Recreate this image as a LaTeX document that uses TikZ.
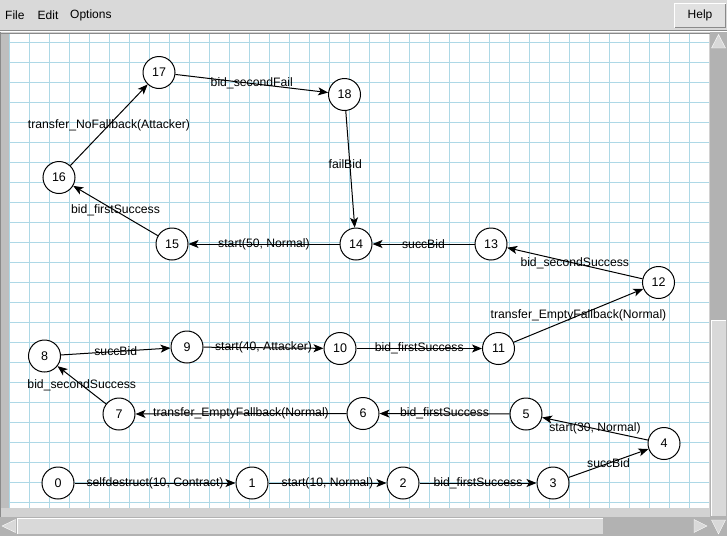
\documentclass[tikz,border=0pt]{standalone}
\usepackage{fontspec}
\setmainfont{Liberation Sans}
\usepackage[dvipsnames]{xcolor}
\usetikzlibrary{arrows.meta}

\definecolor{WinGray}{HTML}{D9D9D9}
\definecolor{FrameGray}{HTML}{D2D2D2}
\definecolor{StripGray}{HTML}{BEBEBE}
\definecolor{TroughGray}{HTML}{B2B2B2}
\definecolor{EdgeGray}{HTML}{8A8A8A}
\definecolor{GridBlue}{HTML}{ADD8E6}

\begin{document}
\begin{tikzpicture}[x=1pt, y=-1pt,
	state/.style={draw, line width=1pt, circle, minimum size=32pt, inner sep=0pt, fill=white, font=\fontsize{12.5}{14}\selectfont},
	trans/.style={-{Stealth[length=10pt, width=8pt, inset=2.5pt]}, line width=1pt},
	lbl/.style={inner sep=0pt, font=\fontsize{12.2}{14}\selectfont},
	menu/.style={anchor=west, inner sep=0pt, font=\fontsize{12}{14}\selectfont}]
	\path[use as bounding box, fill=WinGray] (0,0) rectangle (727,536);

	\node[menu] (file) at (5,15) {File};
	\node[menu] (edit) at (37.5,15) {Edit};
	\node[menu] (options) at (70,15) {Options};
	\fill[WinGray!80!white] (674,3) rectangle (726,28);
	\draw[white, line width=1pt] (674.5,27.5) -- (674.5,3.5) -- (725.5,3.5);
	\draw[EdgeGray, line width=1pt] (674.5,27.5) -- (725.5,27.5) -- (725.5,3.5);
	\node[menu, anchor=center] (help) at (700,15.5) {Help};
	\draw[EdgeGray, line width=1pt] (0,30.5) -- (727,30.5);
	\draw[white, line width=1pt] (0,31.5) -- (727,31.5);

	\fill[FrameGray] (0,32) rectangle (710,518);
	\fill[StripGray] (1,33) rectangle (9,508);
	\draw[EdgeGray, line width=1pt] (0.5,32) -- (0.5,518);
	\draw[EdgeGray, line width=1pt] (0,33) -- (710,33);
	\fill[white] (9,33.5) rectangle (709,508);
	\foreach \gx in {0,...,34}
		\draw[GridBlue, line width=1pt] ({9.5+20*\gx},33.5) -- ({9.5+20*\gx},508);
	\foreach \gy in {0,...,23}
		\draw[GridBlue, line width=1pt] (9,{42.5+20*\gy}) -- (709,{42.5+20*\gy});

	\fill[TroughGray] (710,32) rectangle (727,536);
	\fill[TroughGray] (0,517) rectangle (710,536);
	\fill[WinGray] (711,320) rectangle (726,516);
	\draw[white, line width=1pt] (711.5,516) -- (711.5,320.5) -- (726,320.5);
	\fill[WinGray] (17,518) rectangle (603,534);
	\draw[white, line width=1pt] (17.5,534) -- (17.5,518.5) -- (603,518.5);
	\filldraw[fill=WinGray, draw=white] (711.5,48) -- (718.5,34.5) -- (725.5,48) -- cycle;
	\filldraw[fill=WinGray, draw=white] (711.5,520) -- (718.5,534) -- (725.5,520) -- cycle;
	\filldraw[fill=WinGray, draw=white] (2,526) -- (15.5,519.5) -- (15.5,532.5) -- cycle;
	\filldraw[fill=WinGray, draw=white] (707,526) -- (694,519.5) -- (694,532.5) -- cycle;

	\node[state] (s0) at (58,483) {0};
	\node[state] (s1) at (252,483) {1};
	\node[state] (s2) at (403,483) {2};
	\node[state] (s3) at (553,483) {3};
	\node[state] (s4) at (664,443.5) {4};
	\node[state] (s5) at (526,414) {5};
	\node[state] (s6) at (363,413.5) {6};
	\node[state] (s7) at (119,414) {7};
	\node[state] (s8) at (44.5,356) {8};
	\node[state] (s9) at (187,347) {9};
	\node[state] (s10) at (340,348.5) {10};
	\node[state] (s11) at (498.5,348.5) {11};
	\node[state] (s12) at (658.5,282.5) {12};
	\node[state] (s13) at (491,244) {13};
	\node[state] (s14) at (356,244) {14};
	\node[state] (s15) at (172,244) {15};
	\node[state] (s16) at (59,177.5) {16};
	\node[state] (s17) at (159,72.5) {17};
	\node[state] (s18) at (344.5,94.5) {18};

	\draw[trans] (s0) -- node[lbl] {selfdestruct(10, Contract)} (s1);
	\draw[trans] (s1) -- node[lbl] {start(10, Normal)} (s2);
	\draw[trans] (s2) -- node[lbl] {bid\_firstSuccess} (s3);
	\draw[trans] (s3) -- node[lbl] {succBid} (s4);
	\draw[trans] (s4) -- node[lbl] {start(30, Normal)} (s5);
	\draw[trans] (s5) -- node[lbl] {bid\_firstSuccess} (s6);
	\draw[trans] (s6) -- node[lbl] {transfer\_EmptyFallback(Normal)} (s7);
	\draw[trans] (s7) -- node[lbl] {bid\_secondSuccess} (s8);
	\draw[trans] (s8) -- node[lbl] {succBid} (s9);
	\draw[trans] (s9) -- node[lbl] {start(40, Attacker)} (s10);
	\draw[trans] (s10) -- node[lbl] {bid\_firstSuccess} (s11);
	\draw[trans] (s11) -- node[lbl] {transfer\_EmptyFallback(Normal)} (s12);
	\draw[trans] (s12) -- node[lbl] {bid\_secondSuccess} (s13);
	\draw[trans] (s13) -- node[lbl] {succBid} (s14);
	\draw[trans] (s14) -- node[lbl] {start(50, Normal)} (s15);
	\draw[trans] (s15) -- node[lbl] {bid\_firstSuccess} (s16);
	\draw[trans] (s16) -- node[lbl] {transfer\_NoFallback(Attacker)} (s17);
	\draw[trans] (s17) -- node[lbl] {bid\_secondFail} (s18);
	\draw[trans] (s18) -- node[lbl, xshift=-5pt, yshift=5pt] {failBid} (s14);

\end{tikzpicture}
\end{document}
